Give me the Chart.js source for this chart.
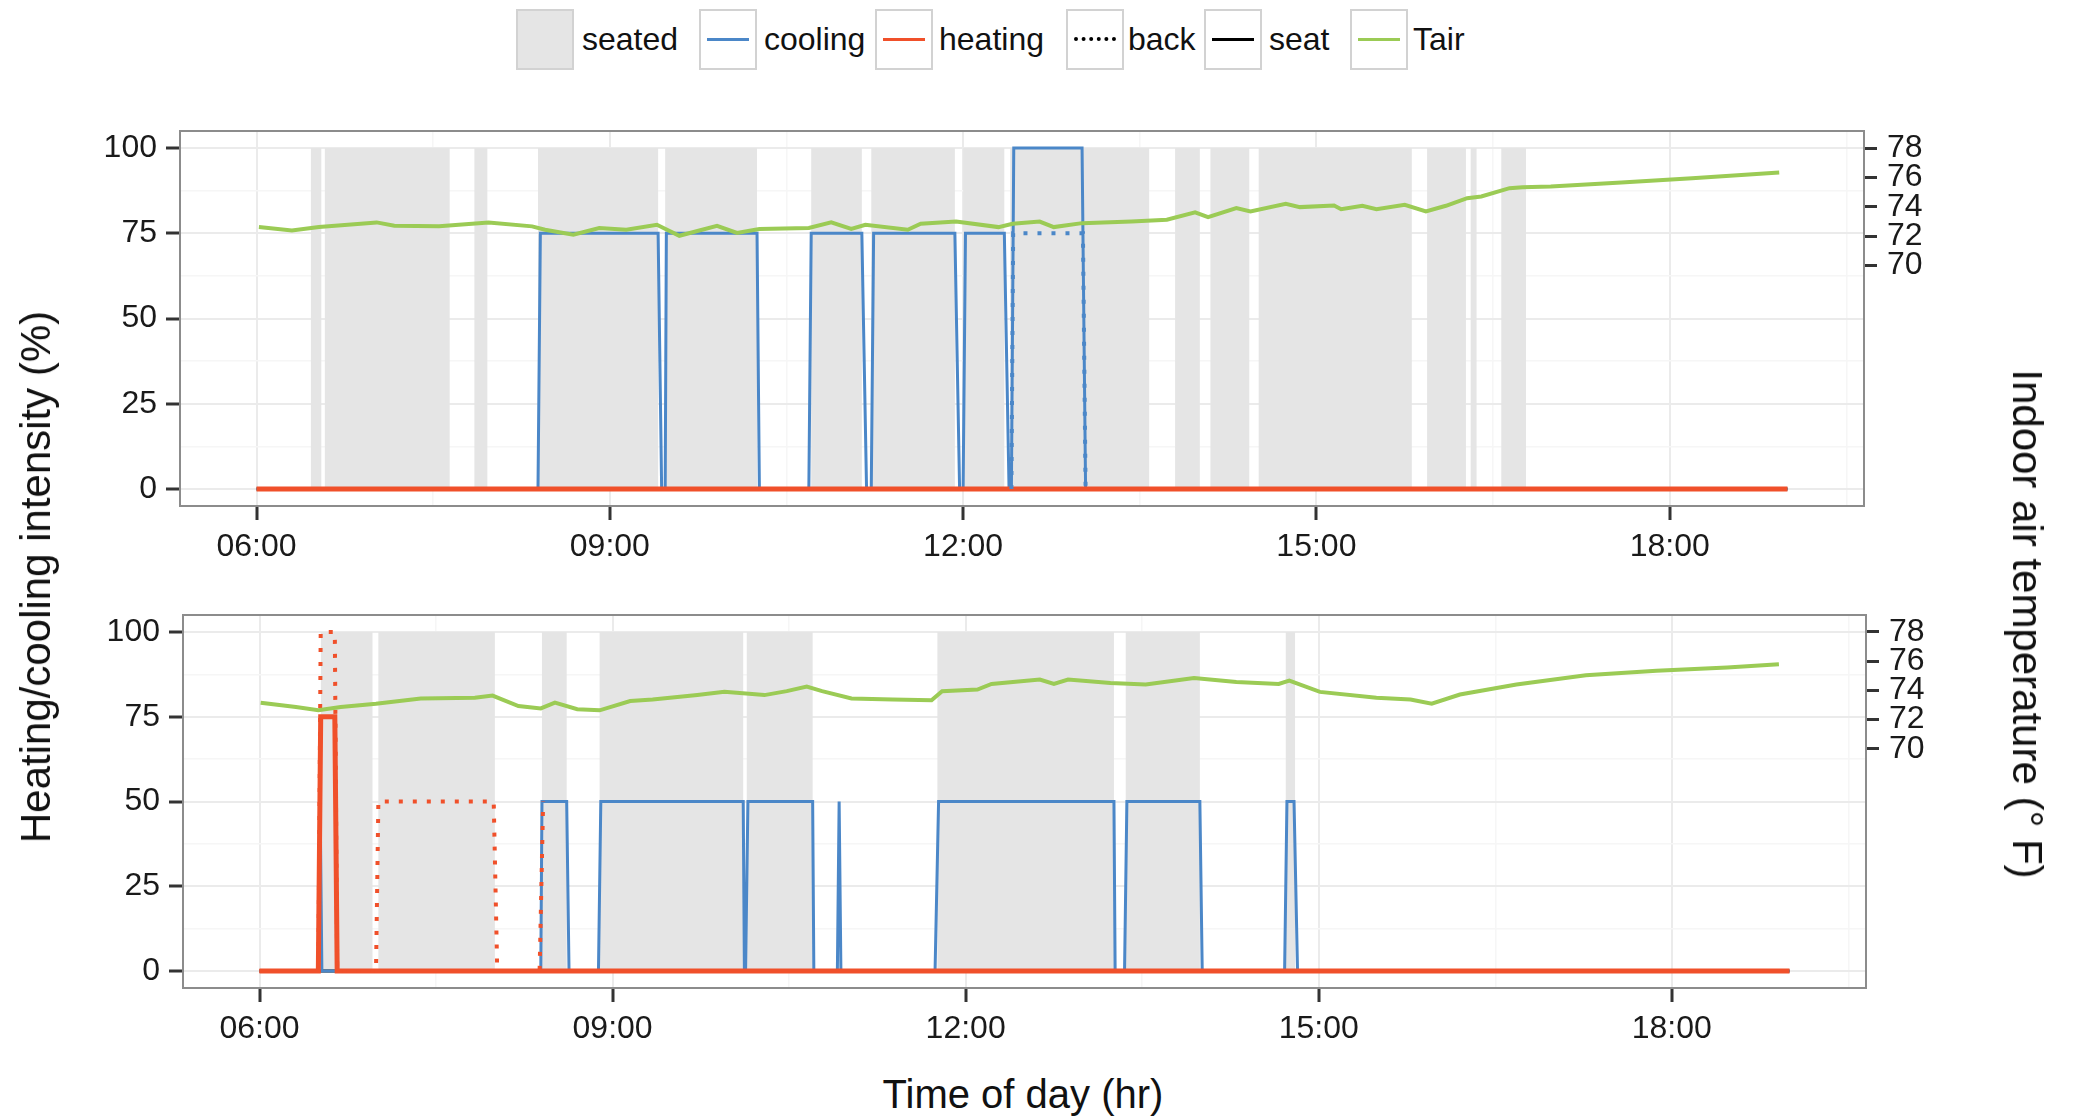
<!DOCTYPE html>
<html>
<head>
<meta charset="utf-8">
<script src="https://cdn.jsdelivr.net/npm/chart.js@4.4.0/dist/chart.umd.min.js"></script>
<style>
  body { margin: 0; background: #fff; font-family: "Liberation Sans", Arial, sans-serif; }
  #wrap { position: relative; width: 2073px; height: 1117px; overflow: hidden; background: #fff; }
  canvas { position: absolute; left: 0; }
  .key { position: absolute; top: 9px; width: 54px; height: 57px; border: 2px solid #d2d2d2; background: #fff; }
  .key i { position: absolute; left: 6px; right: 6px; top: 27px; height: 3px; }
  .lab { position: absolute; top: 9px; height: 61px; line-height: 61px; font-size: 32px; color: #111; }
  .title { position: absolute; font-size: 40px; line-height: 40px; color: #111; white-space: nowrap; }
</style>
</head>
<body>
<div id="wrap">
  <div class="key" style="left:516px;background:#e5e5e5"></div><div class="lab" style="left:582px">seated</div>
  <div class="key" style="left:699px"><i style="background:#4b87c8"></i></div><div class="lab" style="left:764px">cooling</div>
  <div class="key" style="left:875px"><i style="background:#f0502a"></i></div><div class="lab" style="left:939px">heating</div>
  <div class="key" style="left:1066px"><i style="height:0;top:26px;border-top:4px dotted #000"></i></div><div class="lab" style="left:1128px">back</div>
  <div class="key" style="left:1204px"><i style="background:#000"></i></div><div class="lab" style="left:1269px">seat</div>
  <div class="key" style="left:1350px"><i style="background:#9bcb55"></i></div><div class="lab" style="left:1413px">Tair</div>

  <canvas id="top" width="2073" height="470" style="top:100px"></canvas>
  <canvas id="bottom" width="2073" height="470" style="top:584px"></canvas>

  <div class="title" style="left:36px;top:577px;font-size:42px;transform:translate(-50%,-50%) rotate(-90deg)">Heating/cooling intensity (%)</div>
  <div class="title" style="left:2027px;top:624px;font-size:42px;transform:translate(-50%,-50%) rotate(90deg)">Indoor air temperature (° F)</div>
  <div class="title" style="left:1023px;top:1094px;transform:translate(-50%,-50%)">Time of day (hr)</div>
</div>
<script>
// hours of the day as decimals
const xTicks = [6, 7.5, 9, 10.5, 12, 13.5, 15, 16.5, 18, 19.5];
const yTicks = [0, 12.5, 25, 37.5, 50, 62.5, 75, 87.5, 100];
const tempTicks = [70, 72, 74, 76, 78];

// top panel
const seatedTop = [[6.46, 6.55], [6.58, 7.64], [7.85, 7.96], [8.39, 9.41], [9.47, 10.25], [10.71, 11.14], [11.22, 11.93], [12.0, 12.35], [12.40, 13.58], [13.80, 14.01], [14.10, 14.43], [14.51, 15.81], [15.94, 16.27], [16.31, 16.36], [16.57, 16.78]];
const coolTopT = [6.0, 8.39, 8.41, 9.41, 9.44, 9.47, 9.48, 10.25, 10.27, 10.69, 10.71, 11.14, 11.18, 11.22, 11.24, 11.93, 11.97, 12.0, 12.02, 12.35, 12.39, 12.41, 12.43, 13.01, 13.04, 19.0];
const coolTopV = [0, 0, 75, 75, 0, 0, 75, 75, 0, 0, 75, 75, 0, 0, 75, 75, 0, 0, 75, 75, 0, 0, 100, 100, 0, 0];
const heatTopT = [6.0, 19.0];
const heatTopV = [0, 0];
const backTopT = [12.41, 12.425, 13.0175, 13.04];
const backTopV = [0, 75, 75, 0];
const seatTopT = [6.0, 19.0];
const seatTopV = [0, 0];
const tairTopT = [6.02, 6.30, 6.53, 7.02, 7.17, 7.55, 7.97, 8.34, 8.45, 8.69, 8.91, 9.14, 9.40, 9.59, 9.91, 10.08, 10.27, 10.69, 10.88, 11.05, 11.17, 11.53, 11.64, 11.94, 12.30, 12.42, 12.65, 12.77, 13.01, 13.43, 13.73, 13.97, 14.08, 14.32, 14.44, 14.74, 14.86, 15.15, 15.21, 15.39, 15.51, 15.75, 15.93, 16.10, 16.28, 16.40, 16.64, 16.75, 16.99, 17.59, 18.19, 18.93];
const tairTopF = [72.62, 72.39, 72.62, 72.94, 72.71, 72.67, 72.94, 72.67, 72.44, 72.10, 72.56, 72.44, 72.78, 72.03, 72.71, 72.22, 72.49, 72.56, 72.94, 72.49, 72.78, 72.44, 72.85, 73.0, 72.62, 72.85, 73.0, 72.62, 72.89, 73.0, 73.12, 73.62, 73.30, 73.91, 73.68, 74.2, 73.98, 74.09, 73.84, 74.07, 73.84, 74.14, 73.68, 74.07, 74.59, 74.70, 75.27, 75.33, 75.38, 75.65, 75.94, 76.33];

// bottom panel
const seatedBot = [[6.52, 6.96], [7.01, 8.0], [8.40, 8.61], [8.89, 10.11], [10.14, 10.70], [11.76, 13.26], [13.36, 13.99], [14.72, 14.80]];
const coolBotT = [6.0, 6.50, 6.515, 6.53, 8.39, 8.40, 8.61, 8.63, 8.88, 8.90, 10.11, 10.12, 10.13, 10.15, 10.70, 10.71, 10.91, 10.925, 10.94, 11.74, 11.77, 13.26, 13.27, 13.35, 13.37, 13.99, 14.01, 14.71, 14.73, 14.79, 14.82, 19.0];
const coolBotV = [0, 0, 50, 0, 0, 50, 50, 0, 0, 50, 50, 0, 0, 50, 50, 0, 0, 50, 0, 0, 50, 50, 0, 0, 50, 50, 0, 0, 50, 50, 0, 0];
const heatBotT = [6.0, 6.50, 6.52, 6.64, 6.66, 19.0];
const heatBotV = [0, 0, 75, 75, 0, 0];
const backBotT = [6.0, 6.50, 6.52, 6.64, 6.66, 6.99, 7.01, 7.99, 8.02, 8.38, 8.41];
const backBotV = [0, 0, 100, 100, 0, 0, 50, 50, 0, 0, 50];
const seatBotT = [6.0, 19.0];
const seatBotV = [0, 0];
const tairBotT = [6.01, 6.31, 6.50, 6.69, 6.99, 7.37, 7.83, 7.98, 8.20, 8.39, 8.51, 8.70, 8.89, 9.15, 9.34, 9.72, 9.95, 10.29, 10.48, 10.65, 10.78, 11.03, 11.38, 11.71, 11.80, 12.10, 12.22, 12.63, 12.75, 12.87, 13.23, 13.53, 13.94, 14.30, 14.66, 14.75, 15.01, 15.49, 15.78, 15.96, 16.20, 16.68, 17.27, 17.87, 18.47, 18.91];
const tairBotF = [73.16, 72.86, 72.64, 72.86, 73.09, 73.45, 73.5, 73.65, 72.93, 72.77, 73.16, 72.71, 72.64, 73.27, 73.38, 73.68, 73.9, 73.68, 73.95, 74.26, 73.95, 73.45, 73.38, 73.32, 73.95, 74.06, 74.44, 74.74, 74.44, 74.74, 74.51, 74.40, 74.85, 74.58, 74.44, 74.67, 73.90, 73.5, 73.38, 73.09, 73.72, 74.4, 75.03, 75.34, 75.57, 75.79];

const BLUE = "#4b87c8";
const RED = "#f0502a";
const GREEN = "#9bcb55";
const tickFont = { family: "'Liberation Sans', Arial, sans-serif", size: 32 };

function pts(t, v) {
  return t.map((x, i) => ({ x: x, y: v[i] }));
}

function seatedPts(iv) {
  const out = [];
  iv.forEach(p => {
    out.push({ x: p[0], y: 0 }, { x: p[0], y: 100 }, { x: p[1], y: 100 }, { x: p[1], y: 0 });
  });
  return out;
}

function isMajor(v, step) {
  return Math.abs(v / step - Math.round(v / step)) < 1e-6;
}

function hhmm(v) {
  return (v < 10 ? "0" : "") + v + ":00";
}

// frame around the panel, like a ggplot panel border
const panelBox = {
  id: "panelBox",
  afterDatasetsDraw(chart) {
    const a = chart.chartArea;
    const ctx = chart.ctx;
    ctx.save();
    ctx.strokeStyle = "#8c8c8c";
    ctx.lineWidth = 2;
    ctx.strokeRect(a.left, a.top, a.right - a.left, a.bottom - a.top);
    ctx.restore();
  }
};

function lineSet(label, data, color, width, order, extra) {
  return Object.assign({
    label: label,
    data: data,
    borderColor: color,
    borderWidth: width,
    pointRadius: 0,
    tension: 0,
    fill: false,
    order: order,
    yAxisID: "y"
  }, extra || {});
}

function makePanel(id, geo, d) {
  const config = {
    type: "line",
    data: {
      datasets: [
        lineSet("seated", seatedPts(d.seated), "rgba(0,0,0,0)", 0, 10, { backgroundColor: "#e5e5e5", fill: "origin" }),
        lineSet("seat", pts(d.seatT, d.seatV), "#000", 3, 6),
        lineSet("cooling", pts(d.coolT, d.coolV), BLUE, 3, 5),
        lineSet("heating", pts(d.heatT, d.heatV), RED, 5, 4),
        lineSet("back", pts(d.backT, d.backV), d.backColor, 4, 3, { borderDash: [4, 10] }),
        lineSet("Tair", pts(d.tairT, d.tairF), GREEN, 4, 1, { yAxisID: "y1" })
      ]
    },
    options: {
      responsive: false,
      animation: false,
      events: [],
      layout: { padding: { top: geo.top, left: 0, right: 0, bottom: 0 } },
      plugins: { legend: { display: false }, tooltip: { enabled: false } },
      scales: {
        x: {
          type: "linear",
          min: 5.35,
          max: 19.65,
          afterBuildTicks: ax => { ax.ticks = xTicks.map(v => ({ value: v })); },
          afterFit: ax => { ax.height = geo.xh; },
          border: { display: false },
          grid: {
            color: c => (c.tick && isMajor(c.tick.value, 3)) ? "#ebebeb" : "#f6f6f6",
            lineWidth: c => (c.tick && isMajor(c.tick.value, 3)) ? 2 : 1.5,
            tickColor: c => (c.tick && isMajor(c.tick.value, 3)) ? "#333" : "rgba(0,0,0,0)",
            tickLength: 14,
            tickWidth: 3
          },
          ticks: {
            autoSkip: false,
            maxRotation: 0,
            padding: 8,
            color: "#1a1a1a",
            font: tickFont,
            callback: v => isMajor(v, 3) ? hhmm(v) : ""
          }
        },
        y: {
          type: "linear",
          position: "left",
          min: -5,
          max: 105,
          afterBuildTicks: ax => { ax.ticks = yTicks.map(v => ({ value: v })); },
          afterFit: ax => { ax.width = geo.left; },
          border: { display: false },
          grid: {
            color: c => (c.tick && isMajor(c.tick.value, 25)) ? "#ebebeb" : "#f6f6f6",
            lineWidth: c => (c.tick && isMajor(c.tick.value, 25)) ? 2 : 1.5,
            tickColor: c => (c.tick && isMajor(c.tick.value, 25)) ? "#333" : "rgba(0,0,0,0)",
            tickLength: 14,
            tickWidth: 3
          },
          ticks: {
            autoSkip: false,
            padding: 9,
            color: "#1a1a1a",
            font: tickFont,
            callback: v => isMajor(v, 25) ? String(v) : ""
          }
        },
        y1: {
          type: "linear",
          position: "right",
          min: 53.64,
          max: 79.16,
          afterBuildTicks: ax => { ax.ticks = tempTicks.map(v => ({ value: v })); },
          afterFit: ax => { ax.width = geo.right; },
          border: { display: false },
          grid: { drawOnChartArea: false, tickColor: "#333", tickLength: 13, tickWidth: 3 },
          ticks: { autoSkip: false, padding: 10, color: "#1a1a1a", font: tickFont }
        }
      }
    },
    plugins: [panelBox]
  };
  return new Chart(document.getElementById(id), config);
}

makePanel("top", { top: 31, xh: 64, left: 180, right: 209 }, {
  seated: seatedTop,
  coolT: coolTopT, coolV: coolTopV,
  heatT: heatTopT, heatV: heatTopV,
  backT: backTopT, backV: backTopV, backColor: BLUE,
  seatT: seatTopT, seatV: seatTopV,
  tairT: tairTopT, tairF: tairTopF
});

makePanel("bottom", { top: 31, xh: 66, left: 183, right: 207 }, {
  seated: seatedBot,
  coolT: coolBotT, coolV: coolBotV,
  heatT: heatBotT, heatV: heatBotV,
  backT: backBotT, backV: backBotV, backColor: RED,
  seatT: seatBotT, seatV: seatBotV,
  tairT: tairBotT, tairF: tairBotF
});
</script>
</body>
</html>
